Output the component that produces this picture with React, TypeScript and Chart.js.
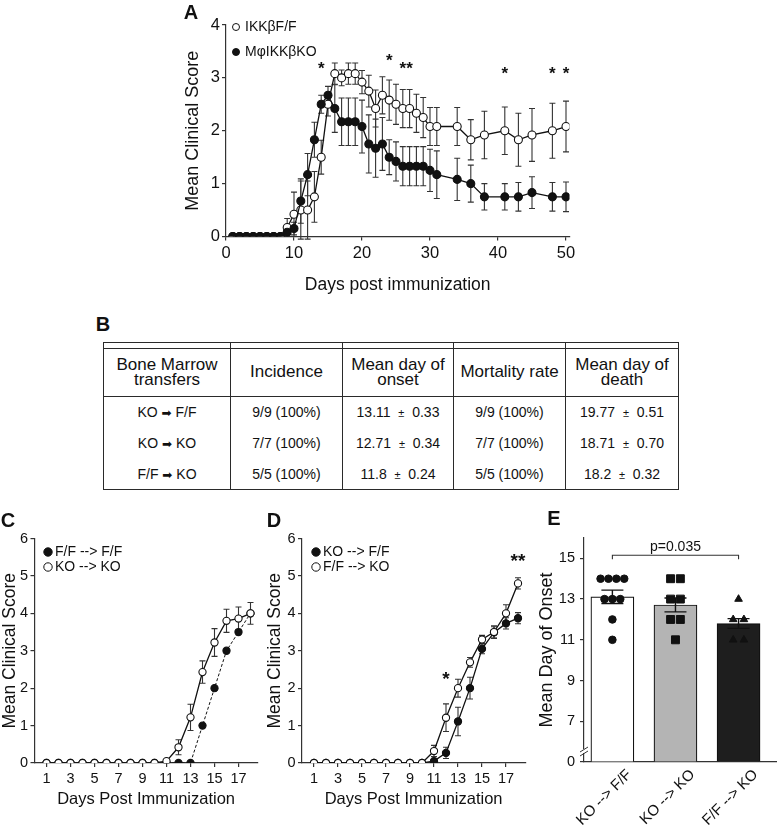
import React, { useEffect, useRef } from 'react';
import { Chart, registerables } from 'chart.js';

Chart.register(...registerables);

const FONT = '"Liberation Sans", Arial, Helvetica, sans-serif';
const INK = '#111111';
const AXIS = '#333333';

/* ---------------- Panel A ---------------- */
const daysA = [1, 2, 3, 4, 5, 6, 7, 8, 9, 10, 11, 12, 13, 14, 15, 16, 17, 18, 19, 20, 21, 22, 23, 24, 25, 26, 27, 28, 29, 30, 31, 34, 36, 38, 41, 43, 45, 48, 50];
const ikkFF = [0, 0, 0, 0, 0, 0, 0, 0, 0.17, 0.42, 0.5, 0.5, 0.75, 1.5, 2.5, 3.08, 3.0, 3.08, 3.08, 2.92, 2.75, 2.42, 2.67, 2.58, 2.5, 2.42, 2.42, 2.33, 2.25, 2.08, 2.08, 2.08, 1.83, 1.92, 2.0, 1.83, 1.92, 2.0, 2.08];
const ikkFFSem = [0, 0, 0, 0, 0, 0, 0, 0, 0.17, 0.42, 0.55, 0.55, 0.48, 0.32, 0.22, 0.2, 0.15, 0.2, 0.2, 0.22, 0.3, 0.35, 0.35, 0.38, 0.38, 0.36, 0.36, 0.36, 0.38, 0.36, 0.36, 0.36, 0.38, 0.45, 0.45, 0.5, 0.5, 0.52, 0.48];
const mphiKO = [0, 0, 0, 0, 0, 0, 0, 0, 0.08, 0.15, 0.67, 1.17, 1.83, 2.5, 2.67, 2.42, 2.17, 2.17, 2.17, 2.08, 1.75, 1.67, 1.75, 1.5, 1.42, 1.33, 1.33, 1.33, 1.33, 1.25, 1.17, 1.08, 1.0, 0.75, 0.75, 0.75, 0.83, 0.75, 0.75];
const mphiKOSem = [0, 0, 0, 0, 0, 0, 0, 0, 0.08, 0.12, 0.42, 0.4, 0.33, 0.17, 0.17, 0.45, 0.45, 0.45, 0.45, 0.5, 0.55, 0.55, 0.5, 0.33, 0.37, 0.37, 0.37, 0.37, 0.37, 0.4, 0.45, 0.4, 0.35, 0.25, 0.25, 0.27, 0.3, 0.27, 0.28];
const labelsA = ['IKKβF/F', 'MφIKKβKO'];
const xTicksA = [0, 10, 20, 30, 40, 50];
const yTicksA = [0, 1, 2, 3, 4];
const sigDaysA = [14, 24, 26.5, 41, 48, 50];
const sigLevelsA = [3.17, 3.32, 3.17, 3.07, 3.07, 3.07];
const sigTextA = ['*', '*', '**', '*', '*', '*'];

/* ---------------- Panel B ---------------- */
const tableHeaders = [['Bone Marrow', 'transfers'], ['Incidence'], ['Mean day of', 'onset'], ['Mortality rate'], ['Mean day of', 'death']];
const donorB = ['KO', 'KO', 'F/F'];
const recipientB = ['F/F', 'KO', 'KO'];
const incidenceB = ['9/9 (100%)', '7/7 (100%)', '5/5 (100%)'];
const onsetMeanB = [13.11, 12.71, 11.8];
const onsetSemB = [0.33, 0.34, 0.24];
const mortalityB = ['9/9 (100%)', '7/7 (100%)', '5/5 (100%)'];
const deathMeanB = [19.77, 18.71, 18.2];
const deathSemB = [0.51, 0.7, 0.32];

/* ---------------- Panels C & D ---------------- */
const daysCD = [1, 2, 3, 4, 5, 6, 7, 8, 9, 10, 11, 12, 13, 14, 15, 16, 17, 18];
const xTicksCD = [1, 3, 5, 7, 9, 11, 13, 15, 17];
const yTicksCD = [0, 1, 2, 3, 4, 5, 6];
const labelsC = ['F/F --> F/F', 'KO --> KO'];
const cFF = [0, 0, 0, 0, 0, 0, 0, 0, 0, 0, 0, 0, 0, 1.0, 2.0, 3.0, 3.5, 4.0];
const cFFSem = [0, 0, 0, 0, 0, 0, 0, 0, 0, 0, 0, 0, 0, 0, 0, 0, 0, 0];
const cKO = [0, 0, 0, 0, 0, 0, 0, 0, 0, 0, 0.05, 0.42, 1.22, 2.43, 3.22, 3.8, 3.86, 4.0];
const cKOSem = [0, 0, 0, 0, 0, 0, 0, 0, 0, 0, 0.05, 0.2, 0.35, 0.3, 0.37, 0.31, 0.31, 0.29];
const labelsD = ['KO --> F/F', 'F/F --> KO'];
const dKOFF = [0, 0, 0, 0, 0, 0, 0, 0, 0, 0, 0.05, 0.27, 1.11, 2.0, 3.05, 3.49, 3.73, 3.87];
const dKOFFSem = [0, 0, 0, 0, 0, 0, 0, 0, 0, 0, 0.03, 0.15, 0.38, 0.29, 0.13, 0.15, 0.15, 0.15];
const dFFKO = [0, 0, 0, 0, 0, 0, 0, 0, 0, 0, 0.32, 1.21, 2.0, 2.69, 3.3, 3.5, 4.0, 4.8];
const dFFKOSem = [0, 0, 0, 0, 0, 0, 0, 0, 0, 0, 0.15, 0.37, 0.24, 0.13, 0.11, 0.17, 0.23, 0.15];
const sigDaysD = [12, 18];
const sigLevelsD = [2.22, 5.37];
const sigTextD = ['*', '**'];

/* ---------------- Panel E ---------------- */
const groupsE = ['KO --> F/F', 'KO --> KO', 'F/F --> KO'];
const onsetKOtoFF = [14, 14, 14, 14, 13, 13, 13, 12, 11];
const onsetKOtoKO = [14, 14, 13, 13, 12, 12, 11];
const onsetFFtoKO = [13, 12, 12, 11, 11];
const yTicksE = [5, 7, 9, 11, 13, 15];
const yTickLabelsE = ['0', '7', '9', '11', '13', '15'];
const pValueE = 'p=0.035';
const pBracketE = [0, 2];
const pLevelE = 15.15;

/* ---------------- helpers ---------------- */
const font = (size: number, weight: string = 'normal') => ({ family: FONT, size, weight });

function errorBarPlugin(cap: number, color: string, width: number, afterIndex?: number) {
  const draw = (chart: any, i: number) => {
    const meta = chart.getDatasetMeta(i);
    const ds: any = chart.data.datasets[i];
    if (!ds.errors) return;
    const ys = chart.scales[meta.yAxisID];
    const ctx = chart.ctx;
    ctx.save();
    ctx.strokeStyle = color;
    ctx.lineWidth = width;
    meta.data.forEach((el: any, j: number) => {
      const e = ds.errors[j];
      if (!e) return;
      const v = ds.data[j].y;
      const top = ys.getPixelForValue(v + e);
      const bot = ys.getPixelForValue(v - e);
      const x = el.x;
      ctx.beginPath();
      ctx.moveTo(x, top); ctx.lineTo(x, bot);
      ctx.moveTo(x - cap / 2, top); ctx.lineTo(x + cap / 2, top);
      ctx.moveTo(x - cap / 2, bot); ctx.lineTo(x + cap / 2, bot);
      ctx.stroke();
    });
    ctx.restore();
  };
  return {
    id: 'errorBars',
    beforeDatasetsDraw(chart: any) {
      if (afterIndex === undefined) chart.data.datasets.forEach((_: any, i: number) => draw(chart, i));
    },
    afterDatasetDraw(chart: any, args: any) {
      if (afterIndex !== undefined && args.index === afterIndex) draw(chart, args.index);
    },
  };
}

type LegendItem = { text: string; filled: boolean; x: number; y: number };
function legendPlugin(items: LegendItem[], size: number, radius: number, gap: number) {
  return {
    id: 'panelLegend',
    afterDraw(chart: any) {
      const ctx = chart.ctx;
      ctx.save();
      ctx.font = `${size}px ${FONT}`;
      ctx.textBaseline = 'middle';
      ctx.textAlign = 'left';
      items.forEach((it) => {
        ctx.beginPath();
        ctx.arc(it.x, it.y, radius, 0, Math.PI * 2);
        ctx.fillStyle = it.filled ? INK : '#ffffff';
        ctx.fill();
        ctx.lineWidth = 1;
        ctx.strokeStyle = INK;
        ctx.stroke();
        ctx.fillStyle = INK;
        ctx.fillText(it.text, it.x + gap, it.y + 0.5);
      });
      ctx.restore();
    },
  };
}

function marksPlugin(xs: number[], ys: number[], texts: string[], size: number) {
  return {
    id: 'sigMarks',
    afterDatasetsDraw(chart: any) {
      const ctx = chart.ctx;
      const sx = chart.scales.x;
      const sy = chart.scales.y;
      ctx.save();
      ctx.font = `bold ${size}px ${FONT}`;
      ctx.fillStyle = INK;
      ctx.textAlign = 'center';
      ctx.textBaseline = 'middle';
      texts.forEach((t, i) => ctx.fillText(t, sx.getPixelForValue(xs[i]), sy.getPixelForValue(ys[i])));
      ctx.restore();
    },
  };
}

type Series = { label: string; x: number[]; y: number[]; err: number[]; filled: boolean; dashed?: boolean; order: number };

type LineOpts = {
  series: Series[];
  xMax: number; xTicks: number[];
  yMax: number; yTicks: number[];
  yAxisWidth: number; xAxisHeight: number;
  padTop: number; padRight: number;
  tickFont: number; xTickPad: number; yTickPad: number;
  xTitle: string; xTitleFont: number; xTitlePad: number;
  yTitle: string; yTitleFont: number; yTitlePad: number;
  pointRadius: number; cap: number;
  legend: LegendItem[]; legendFont: number; legendRadius: number; legendGap: number;
  marks: [number[], number[], string[]]; markFont: number;
};

function lineConfig(o: LineOpts): any {
  return {
    type: 'line',
    data: {
      datasets: o.series.map((s) => ({
        label: s.label,
        data: s.x.map((d, i) => ({ x: d, y: s.y[i] })),
        errors: s.err,
        order: s.order,
        borderColor: INK,
        borderWidth: s.dashed ? 1 : 1.3,
        borderDash: s.dashed ? [3, 2] : [],
        pointRadius: o.pointRadius,
        pointBorderWidth: 1.1,
        pointBorderColor: INK,
        pointBackgroundColor: s.filled ? INK : '#ffffff',
        tension: 0,
        fill: false,
      })),
    },
    options: {
      animation: false,
      responsive: true,
      maintainAspectRatio: false,
      events: [],
      layout: { padding: { top: o.padTop, right: o.padRight, left: 0, bottom: 0 } },
      plugins: { legend: { display: false }, tooltip: { enabled: false } },
      scales: {
        x: {
          type: 'linear',
          min: 0,
          max: o.xMax,
          afterBuildTicks: (s: any) => { s.ticks = o.xTicks.map((v) => ({ value: v })); },
          afterFit: (s: any) => { s.height = o.xAxisHeight; },
          ticks: { font: font(o.tickFont), color: INK, padding: o.xTickPad, maxRotation: 0, autoSkip: false },
          grid: { display: true, drawOnChartArea: false, tickLength: 4, color: AXIS, lineWidth: 1.2 },
          border: { display: true, color: AXIS, width: 1.2 },
          title: { display: true, text: o.xTitle, font: font(o.xTitleFont), color: INK, padding: { top: 0, bottom: o.xTitlePad } },
        },
        y: {
          type: 'linear',
          min: 0,
          max: o.yMax,
          afterBuildTicks: (s: any) => { s.ticks = o.yTicks.map((v) => ({ value: v })); },
          afterFit: (s: any) => { s.width = o.yAxisWidth; },
          ticks: { font: font(o.tickFont), color: INK, padding: o.yTickPad },
          grid: { display: true, drawOnChartArea: false, tickLength: 4, color: AXIS, lineWidth: 1.2 },
          border: { display: true, color: AXIS, width: 1.2 },
          title: { display: true, text: o.yTitle, font: font(o.yTitleFont), color: INK, padding: { top: o.yTitlePad, bottom: 0 } },
        },
      },
    },
    plugins: [
      errorBarPlugin(o.cap, '#333333', 1.1),
      marksPlugin(o.marks[0], o.marks[1], o.marks[2], o.markFont),
      legendPlugin(o.legend, o.legendFont, o.legendRadius, o.legendGap),
    ],
  };
}

const configA = () =>
  lineConfig({
    series: [
      { label: labelsA[0], x: daysA, y: ikkFF, err: ikkFFSem, filled: false, order: 1 },
      { label: labelsA[1], x: daysA, y: mphiKO, err: mphiKOSem, filled: true, order: 0 },
    ],
    xMax: 50.5, xTicks: xTicksA, yMax: 4, yTicks: yTicksA,
    yAxisWidth: 76, xAxisHeight: 63.5, padTop: 25, padRight: 10.6,
    tickFont: 16.5, xTickPad: 3, yTickPad: 2,
    xTitle: 'Days post immunization', xTitleFont: 17.5, xTitlePad: 4.5,
    yTitle: 'Mean Clinical Score', yTitleFont: 18, yTitlePad: 32,
    pointRadius: 4, cap: 6,
    legend: [
      { text: labelsA[0], filled: false, x: 86, y: 27 },
      { text: labelsA[1], filled: true, x: 86, y: 52 },
    ],
    legendFont: 14, legendRadius: 3.5, legendGap: 9,
    marks: [sigDaysA, sigLevelsA, sigTextA], markFont: 17,
  });

const configC = () =>
  lineConfig({
    series: [
      { label: labelsC[0], x: daysCD, y: cFF, err: cFFSem, filled: true, dashed: true, order: 1 },
      { label: labelsC[1], x: daysCD, y: cKO, err: cKOSem, filled: false, order: 0 },
    ],
    xMax: 18.6, xTicks: xTicksCD, yMax: 6, yTicks: yTicksCD,
    yAxisWidth: 34.5, xAxisHeight: 47, padTop: 38.5, padRight: 12.3,
    tickFont: 14.5, xTickPad: 3, yTickPad: 2.5,
    xTitle: 'Days Post Immunization', xTitleFont: 16.5, xTitlePad: 1,
    yTitle: 'Mean Clinical Score', yTitleFont: 17.5, yTitlePad: 0,
    pointRadius: 3.6, cap: 6,
    legend: [
      { text: labelsC[0], filled: true, x: 48, y: 52 },
      { text: labelsC[1], filled: false, x: 48, y: 67 },
    ],
    legendFont: 14, legendRadius: 4.2, legendGap: 7,
    marks: [[], [], []], markFont: 17,
  });

const configD = () =>
  lineConfig({
    series: [
      { label: labelsD[0], x: daysCD, y: dKOFF, err: dKOFFSem, filled: true, order: 1 },
      { label: labelsD[1], x: daysCD, y: dFFKO, err: dFFKOSem, filled: false, order: 0 },
    ],
    xMax: 18.6, xTicks: xTicksCD, yMax: 6, yTicks: yTicksCD,
    yAxisWidth: 40, xAxisHeight: 47, padTop: 38.5, padRight: 6.8,
    tickFont: 14.5, xTickPad: 3, yTickPad: 2.5,
    xTitle: 'Days Post Immunization', xTitleFont: 16.5, xTitlePad: 1,
    yTitle: 'Mean Clinical Score', yTitleFont: 17.5, yTitlePad: 2.5,
    pointRadius: 3.6, cap: 6,
    legend: [
      { text: labelsD[0], filled: true, x: 54, y: 52 },
      { text: labelsD[1], filled: false, x: 54, y: 67 },
    ],
    legendFont: 14, legendRadius: 4.2, legendGap: 7,
    marks: [sigDaysD, sigLevelsD, sigTextD], markFont: 19,
  });

function beeswarm(values: number[], center: number, step: number) {
  const counts: Record<string, number> = {};
  values.forEach((v) => { counts[v] = (counts[v] || 0) + 1; });
  const seen: Record<string, number> = {};
  return values.map((v) => {
    const k = counts[v];
    const j = (seen[v] = (seen[v] === undefined ? -1 : seen[v]) + 1);
    return { x: center + (j - (k - 1) / 2) * step, y: v };
  });
}

const extrasE = {
  id: 'extrasE',
  afterDatasetsDraw(chart: any) {
    const ctx = chart.ctx;
    const sx = chart.scales.x;
    const sy = chart.scales.y;
    const x0 = sx.getPixelForValue(pBracketE[0]);
    const x1 = sx.getPixelForValue(pBracketE[1]);
    const yb = sy.getPixelForValue(pLevelE);
    ctx.save();
    ctx.strokeStyle = '#333333';
    ctx.lineWidth = 1.1;
    ctx.beginPath();
    ctx.moveTo(x0, yb + 4); ctx.lineTo(x0, yb); ctx.lineTo(x1, yb); ctx.lineTo(x1, yb + 4);
    ctx.stroke();
    ctx.fillStyle = INK;
    ctx.font = `14px ${FONT}`;
    ctx.textAlign = 'center';
    ctx.textBaseline = 'bottom';
    ctx.fillText(pValueE, (x0 + x1) / 2, yb - 1);
    // axis break marks
    const ax = chart.chartArea.left;
    const by = chart.chartArea.bottom - 11;
    ctx.fillStyle = '#ffffff';
    ctx.fillRect(ax - 2, by - 2, 4, 4);
    ctx.strokeStyle = '#333333';
    ctx.lineWidth = 1;
    ctx.beginPath();
    ctx.moveTo(ax - 4, by + 1); ctx.lineTo(ax + 4, by - 4);
    ctx.moveTo(ax - 4, by + 5); ctx.lineTo(ax + 4, by);
    ctx.stroke();
    ctx.restore();
  },
};

const configE = (): any => ({
  type: 'bar',
  data: {
    datasets: [
      {
        type: 'bar',
        data: groupsE.map((_, i) => ({ x: i, y: onsetMeanB[i] })),
        errors: onsetSemB,
        base: 5,
        backgroundColor: ['#ffffff', '#b4b4b4', '#1e1e1e'],
        borderColor: INK,
        borderWidth: 1.2,
        barThickness: 43,
        order: 2,
      },
      { type: 'scatter', data: beeswarm(onsetKOtoFF, 0, 0.125), pointStyle: 'circle', pointRadius: 3.8, backgroundColor: INK, borderColor: INK, order: 1 },
      { type: 'scatter', data: beeswarm(onsetKOtoKO, 1, 0.155), pointStyle: 'rect', pointRadius: 5.6, backgroundColor: INK, borderColor: INK, order: 1 },
      { type: 'scatter', data: beeswarm(onsetFFtoKO, 2, 0.17), pointStyle: 'triangle', pointRadius: 4.4, backgroundColor: INK, borderColor: INK, order: 1 },
    ],
  },
  options: {
    animation: false,
    responsive: true,
    maintainAspectRatio: false,
    events: [],
    layout: { padding: { top: 38, right: 0, left: 0, bottom: 0 } },
    plugins: { legend: { display: false }, tooltip: { enabled: false } },
    scales: {
      x: {
        type: 'linear',
        min: -0.45,
        max: 2.6,
        offset: false,
        afterBuildTicks: (s: any) => { s.ticks = groupsE.map((_, i) => ({ value: i })); },
        afterFit: (s: any) => { s.height = 66; },
        ticks: { font: font(15), color: INK, minRotation: 45, maxRotation: 45, labelOffset: 17, padding: -4, autoSkip: false, callback: (v: any) => groupsE[v] ?? '' },
        grid: { display: false },
        border: { display: true, color: AXIS, width: 1.2 },
      },
      y: {
        type: 'linear',
        min: 5,
        max: 16,
        afterBuildTicks: (s: any) => { s.ticks = yTicksE.map((v) => ({ value: v })); },
        afterFit: (s: any) => { s.width = 49; },
        ticks: { font: font(14.5), color: INK, padding: 5, callback: (v: any) => yTickLabelsE[yTicksE.indexOf(v)] ?? '' },
        grid: { display: true, drawOnChartArea: false, tickLength: 4, color: AXIS, lineWidth: 1.2 },
        border: { display: true, color: AXIS, width: 1.2 },
        title: { display: true, text: 'Mean Day of Onset', font: font(18), color: INK, padding: { top: 1.2, bottom: 0 } },
      },
    },
  },
  plugins: [errorBarPlugin(22, INK, 1.4, 0), extrasE],
});

function ChartBox(props: { left: number; top: number; width: number; height: number; make: () => any }) {
  const ref = useRef<HTMLCanvasElement>(null);
  useEffect(() => {
    const chart = new Chart(ref.current as HTMLCanvasElement, props.make());
    return () => chart.destroy();
  }, []);
  return (
    <div style={{ position: 'absolute', left: props.left, top: props.top, width: props.width, height: props.height }}>
      <canvas ref={ref} />
    </div>
  );
}

function Letter(props: { text: string; x: number; y: number }) {
  return (
    <div style={{ position: 'absolute', left: props.x, top: props.y, transform: 'translate(-50%, -50%)', font: `bold 20px ${FONT}`, lineHeight: 1, color: INK }}>
      {props.text}
    </div>
  );
}

const LINE = '1.5px solid #2a2a2a';
const colWidths = [127, 112, 111, 112, 113];

function TableB() {
  const cell = (extra: any = {}) => ({ borderLeft: LINE, borderRight: LINE, padding: 0, textAlign: 'center' as const, verticalAlign: 'middle' as const, ...extra });
  const fmt = (m: number, s: number) => (
    <span>
      {String(m)}{'\u00a0\u00a0'}<span style={{ fontSize: 11 }}>±</span>{'\u00a0\u00a0'}{s.toFixed(2)}
    </span>
  );
  return (
    <table style={{ position: 'absolute', left: 103, top: 342, width: 575, borderCollapse: 'collapse', tableLayout: 'fixed', fontFamily: FONT, color: INK, border: LINE }}>
      <colgroup>
        {colWidths.map((w, i) => <col key={i} style={{ width: w }} />)}
      </colgroup>
      <tbody>
        <tr style={{ height: 6 }}>
          {colWidths.map((_, i) => <td key={i} style={cell({ borderBottom: LINE })} />)}
        </tr>
        <tr style={{ height: 48 }}>
          {tableHeaders.map((h, i) => (
            <td key={i} style={cell({ borderBottom: LINE, fontSize: 17, lineHeight: '15px', paddingBottom: 2 })}>
              {h.map((line, j) => <div key={j}>{line}</div>)}
            </td>
          ))}
        </tr>
        {donorB.map((d, r) => (
          <tr key={r} style={{ height: 31, fontSize: 14 }}>
            <td style={cell()}>
              {d}{' '}<span style={{ fontFamily: '"DejaVu Sans"', fontSize: 12 }}>➡</span>{' '}{recipientB[r]}
            </td>
            <td style={cell()}>{incidenceB[r]}</td>
            <td style={cell()}>{fmt(onsetMeanB[r], onsetSemB[r])}</td>
            <td style={cell()}>{mortalityB[r]}</td>
            <td style={cell()}>{fmt(deathMeanB[r], deathSemB[r])}</td>
          </tr>
        ))}
      </tbody>
    </table>
  );
}

export default function App() {
  return (
    <div style={{ position: 'absolute', left: 0, top: 0, width: 783, height: 828, background: '#ffffff', overflow: 'hidden' }}>
      <ChartBox left={150} top={0} width={430} height={300} make={configA} />
      <TableB />
      <ChartBox left={0} top={500} width={270} height={310} make={configC} />
      <ChartBox left={262} top={500} width={270} height={310} make={configD} />
      <ChartBox left={535} top={500} width={248} height={328} make={configE} />
      <Letter text="A" x={191} y={12} />
      <Letter text="B" x={103} y={324} />
      <Letter text="C" x={8} y={520} />
      <Letter text="D" x={274} y={520} />
      <Letter text="E" x={554} y={518} />
    </div>
  );
}
